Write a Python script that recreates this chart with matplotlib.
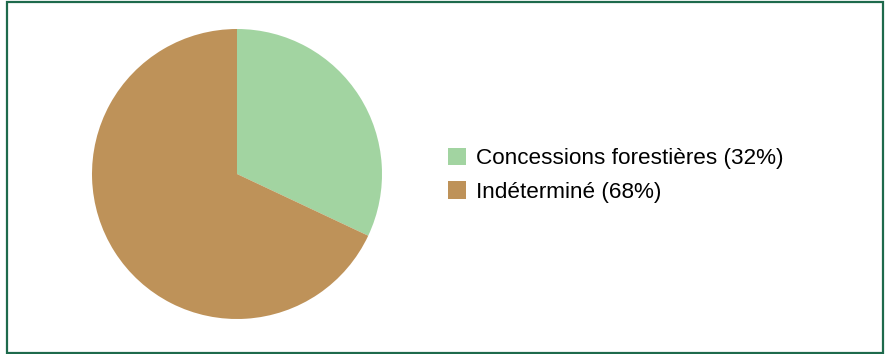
import matplotlib
import matplotlib.pyplot as plt
from matplotlib.patches import Rectangle

matplotlib.rcParams["font.family"] = ["Liberation Sans", "DejaVu Sans"]

labels = ["Concessions forestières (32%)", "Indéterminé (68%)"]
values = [32, 68]
colors = ["#a2d4a1", "#be9259"]

fig = plt.figure(figsize=(8.87, 3.54), dpi=100)

# cadre vert autour du graphique
fig.patches.append(Rectangle((7.5 / 887, 1.5 / 354), 876 / 887, 350.5 / 354,
                             transform=fig.transFigure, fill=False,
                             edgecolor="#1e6a4c", linewidth=1.6))

# camembert: centre (237,174), rayon ~145 px
r = 145
ax = fig.add_axes([(237 - r) / 887, (354 - 174 - r) / 354, 2 * r / 887, 2 * r / 354])
wedges, _ = ax.pie(values, colors=colors, startangle=90, counterclock=False,
                   wedgeprops=dict(linewidth=0))
ax.set_xlim(-1, 1)
ax.set_ylim(-1, 1)
ax.set_aspect("equal")
ax.axis("off")

fig.legend(wedges, labels, loc="upper left", bbox_to_anchor=(448 / 887, 1 - 148 / 354),
           frameon=False, fontsize=16.2, handlelength=0.8, handleheight=0.8,
           handletextpad=0.45, labelspacing=0.53, borderpad=0, borderaxespad=0)

fig.savefig("out.png", dpi=100)
